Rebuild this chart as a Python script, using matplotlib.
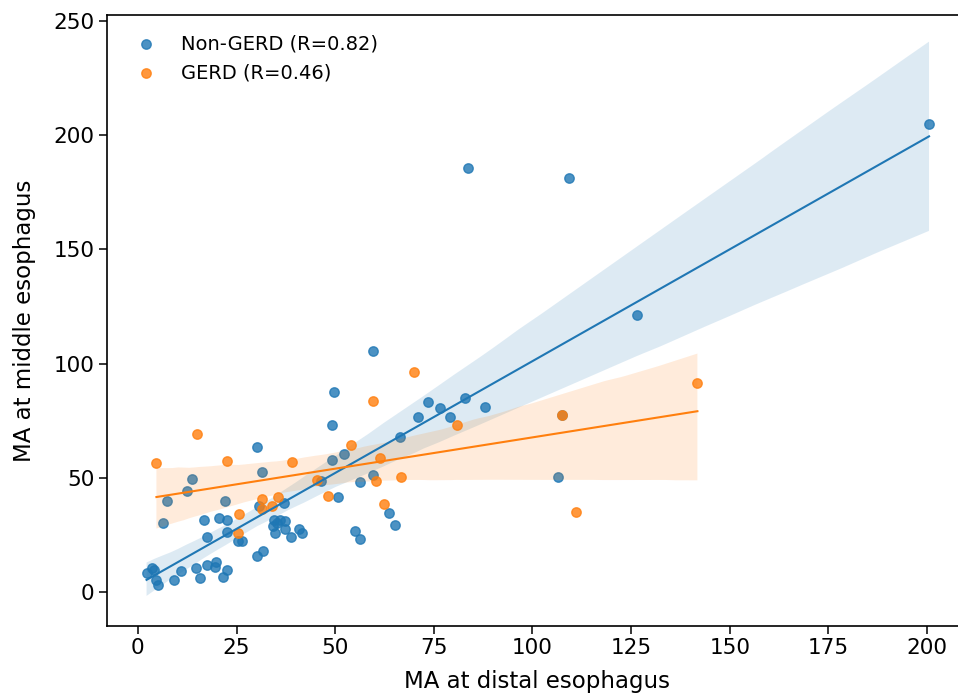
import matplotlib
matplotlib.use("Agg")
import matplotlib.pyplot as plt
import seaborn as sns
import numpy as np

# Non-GERD group
nongerd_distal = [2.2, 3.5, 4.1, 4.6, 5.2, 6.3, 7.4, 9.1, 10.9, 12.5, 13.6, 14.7, 15.7,
                  16.8, 17.4, 17.6, 19.5, 19.8, 20.6, 21.6, 22.0, 22.5, 22.6, 22.6,
                  25.4, 26.3, 30.1, 30.3, 31.5, 31.8, 30.8, 34.5, 35.2, 36.0, 37.3,
                  34.3, 34.7, 37.3, 38.7, 40.9, 41.5, 37.1, 46.3, 49.3, 49.8, 49.3,
                  50.6, 52.3, 55.0, 56.4, 56.4, 59.6, 59.6, 63.6, 65.1, 66.4, 71.0,
                  73.5, 76.6, 79.0, 83.0, 83.7, 88.0, 106.5, 107.4, 109.3, 126.5, 200.5]
nongerd_middle = [8.5, 10.4, 9.6, 5.3, 3.1, 30.4, 39.8, 5.3, 9.3, 44.0, 49.3, 10.4, 6.3,
                  31.5, 24.2, 11.8, 10.8, 13.3, 32.5, 6.7, 39.8, 31.5, 26.4, 9.6,
                  22.5, 22.5, 15.8, 63.5, 52.4, 18.1, 37.5, 31.3, 30.0, 31.6, 31.1,
                  28.8, 25.9, 27.5, 24.0, 27.4, 25.6, 39.1, 48.7, 73.1, 87.7, 57.6,
                  41.5, 60.5, 26.9, 48.3, 23.0, 105.6, 51.1, 34.5, 29.4, 68.0, 76.6,
                  83.0, 80.6, 76.6, 84.9, 185.6, 81.0, 50.2, 77.5, 181.3, 121.3, 204.9]

# GERD group
gerd_distal = [4.7, 14.9, 22.6, 25.7, 25.3, 31.4, 31.4, 34.1, 35.6, 39.0, 45.3, 48.2,
               53.9, 59.6, 61.4, 60.3, 62.3, 66.7, 70.0, 80.9, 107.4, 111.0, 141.8]
gerd_middle = [56.3, 69.2, 57.4, 34.2, 25.7, 40.6, 36.2, 37.7, 41.7, 57.0, 49.0, 42.0,
               64.2, 83.8, 58.7, 48.7, 38.4, 50.5, 96.2, 73.1, 77.5, 34.9, 91.4]

labels = ["Non-GERD (R=0.82)", "GERD (R=0.46)"]
xticks = [0, 25, 50, 75, 100, 125, 150, 175, 200]
yticks = [0, 50, 100, 150, 200, 250]

W, H = 958, 698
fig = plt.figure(figsize=(W / 100, H / 100), dpi=100)
ax = fig.add_axes([106.7 / W, 72 / H, 861.4 / W, 611 / H])

sns.regplot(x=np.array(nongerd_distal), y=np.array(nongerd_middle), ax=ax,
            label=labels[0], seed=0, color="#1f77b4",
            scatter_kws={"s": 46}, line_kws={"lw": 1.5})
sns.regplot(x=np.array(gerd_distal), y=np.array(gerd_middle), ax=ax,
            label=labels[1], seed=0, color="#ff7f0e",
            scatter_kws={"s": 46}, line_kws={"lw": 1.5})

ax.set_xlim(-7.9, 210.4)
ax.set_ylim(-14.9, 252.6)
ax.set_xticks(xticks)
ax.set_yticks(yticks)
ax.tick_params(labelsize=15.5, length=5.5, width=1.1)
for s in ax.spines.values():
    s.set_linewidth(1.2)
ax.set_xlabel("MA at distal esophagus", fontsize=16.5, labelpad=8)
ax.set_ylabel("MA at middle esophagus", fontsize=16.5, labelpad=12)
ax.legend(loc="upper left", frameon=False, fontsize=14, borderaxespad=0.6)

fig.savefig("out.png", dpi=100)
